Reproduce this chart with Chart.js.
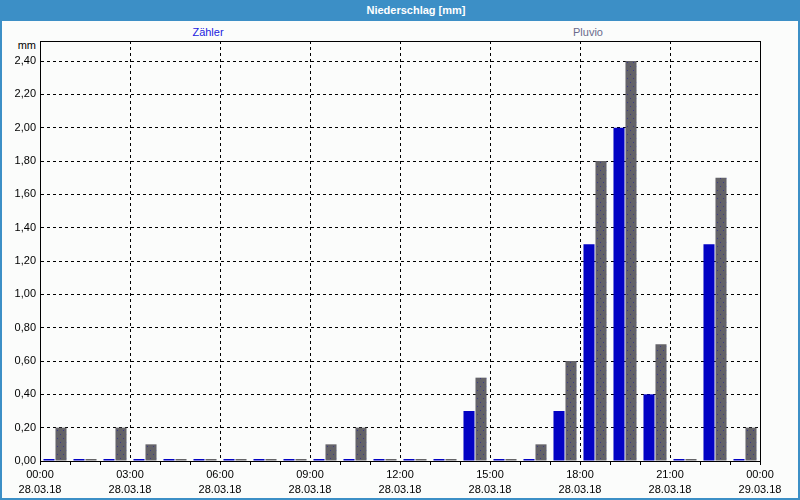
<!DOCTYPE html>
<html>
<head>
<meta charset="utf-8">
<script src="https://cdn.jsdelivr.net/npm/chart.js@4/dist/chart.umd.min.js"></script>
<style>
	html, body { margin: 0; padding: 0; }
	body { width: 800px; height: 500px; background: #3c8fc6; position: relative; overflow: hidden; font-family: "Liberation Sans", Arial, sans-serif; }
	#title { position: absolute; left: 16px; top: 0; width: 800px; height: 21px; line-height: 21px; text-align: center; color: #fff; font-weight: bold; font-size: 11px; }
	#panel { position: absolute; left: 2px; top: 21px; width: 796px; height: 477px; background: #fbfcfb; }
	#chartRain { position: absolute; left: 0; top: 0; }
	.series { position: absolute; top: 5px; font-size: 11px; transform: translateX(-50%); }
	#unit { position: absolute; left: 0; width: 34px; top: 18px; text-align: right; font-size: 11px; color: #000; }
</style>
</head>
<body>
<div id="title">Niederschlag [mm]</div>
<div id="panel">
	<div class="series" id="lblZaehler" style="left:206px;color:#1c1ce0"></div>
	<div class="series" id="lblPluvio" style="left:586px;color:#6a6a8c"></div>
	<div id="unit">mm</div>
	<canvas id="chartRain" width="796" height="477"></canvas>
</div>
<script>
// hourly sums, 28.03.18 00:00 .. 29.03.18 00:00
const hourStart = [0,1,2,3,4,5,6,7,8,9,10,11,12,13,14,15,16,17,18,19,20,21,22,23];
const zaehler = [0,0,0,0,0,0,0,0,0,0,0,0,0,0,0.3,0,0,0.3,1.3,2.0,0.4,0,1.3,0];
const pluvio  = [0.2,0,0.2,0.1,0,0,0,0,0,0.1,0.2,0,0,0,0.5,0,0.1,0.6,1.8,2.4,0.7,0,1.7,0.2];
const seriesNames = ['Zähler', 'Pluvio'];
const tickTimes = ['00:00','03:00','06:00','09:00','12:00','15:00','18:00','21:00','00:00'];
const tickDates = ['28.03.18','28.03.18','28.03.18','28.03.18','28.03.18','28.03.18','28.03.18','28.03.18','29.03.18'];

document.getElementById('lblZaehler').textContent = seriesNames[0];
document.getElementById('lblPluvio').textContent = seriesNames[1];

function dotPattern() {
	const c = document.createElement('canvas');
	c.width = 6; c.height = 8;
	const g = c.getContext('2d');
	g.fillStyle = '#646368';
	g.fillRect(0, 0, 6, 8);
	g.fillStyle = '#3b3b86';
	g.fillRect(1, 1, 1, 1);
	g.fillRect(4, 5, 1, 1);
	return g.createPattern(c, 'repeat');
}

const frame = {
	id: 'frame',
	afterDraw(chart) {
		const a = chart.chartArea, ctx = chart.ctx;
		ctx.save();
		ctx.strokeStyle = '#000';
		ctx.lineWidth = 1;
		ctx.strokeRect(Math.round(a.left) + 0.5, Math.round(a.top) + 0.5, Math.round(a.right - a.left), Math.round(a.bottom - a.top));
		ctx.restore();
	}
};

const font = { family: '"Liberation Sans", Arial, sans-serif', size: 11 };

new Chart(document.getElementById('chartRain'), {
	type: 'bar',
	data: {
		datasets: [{
			label: seriesNames[0],
			data: hourStart.map((h, i) => ({ x: h + 0.5, y: zaehler[i] })),
			backgroundColor: '#0303c4'
		},{
			label: seriesNames[1],
			data: hourStart.map((h, i) => ({ x: h + 0.5, y: pluvio[i] })),
			backgroundColor: dotPattern()
		}]
	},
	options: {
		responsive: false,
		animation: false,
		events: [],
		datasets: { bar: { barPercentage: 0.92, categoryPercentage: 0.8, minBarLength: 2 } },
		layout: { padding: { top: 20, right: 38, left: 0, bottom: 0 } },
		plugins: { legend: { display: false }, title: { display: false }, tooltip: { enabled: false } },
		scales: {
			x: {
				type: 'linear',
				min: 0,
				max: 24,
				offset: false,
				afterFit: s => { s.height = 37; },
				border: { color: '#000', width: 1, dash: [3, 3] },
				grid: {
					offset: false,
					color: c => (c.tick && c.tick.value % 3 === 0) ? '#000' : 'rgba(0,0,0,0)',
					tickColor: '#000',
					tickLength: 4,
					tickBorderDash: []
				},
				ticks: {
					stepSize: 1,
					autoSkip: false,
					maxRotation: 0,
					padding: 2,
					color: '#000',
					font: Object.assign({ lineHeight: '15px' }, font),
					callback: v => v % 3 === 0 ? [tickTimes[v / 3], tickDates[v / 3]] : ''
				}
			},
			y: {
				min: 0,
				max: 2.52,
				afterFit: s => { s.width = 38; },
				border: { color: '#000', width: 1, dash: [3, 3] },
				grid: { color: '#000', drawTicks: false },
				ticks: {
					stepSize: 0.2,
					includeBounds: false,
					padding: 4,
					color: '#000',
					font: font,
					callback: v => v.toFixed(2).replace('.', ',')
				}
			}
		}
	},
	plugins: [frame]
});
</script>
</body>
</html>
